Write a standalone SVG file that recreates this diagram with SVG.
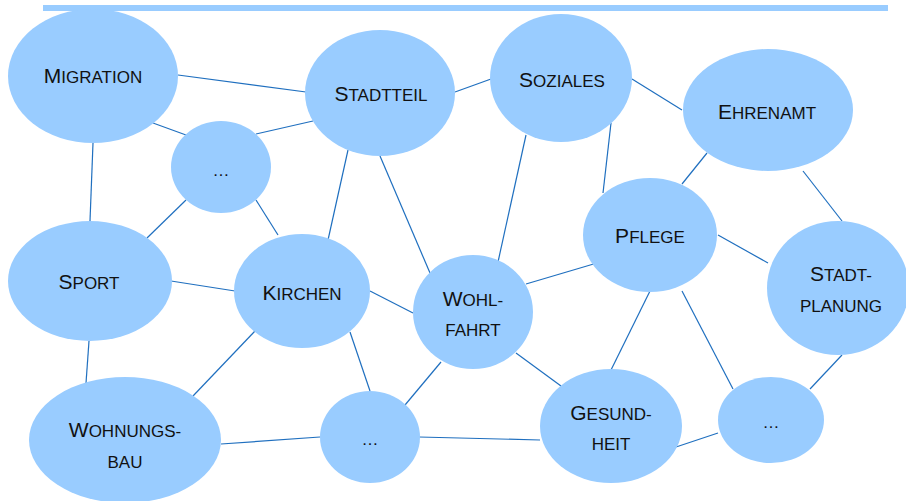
<svg xmlns="http://www.w3.org/2000/svg" width="906" height="501" viewBox="0 0 906 501">
<style>
.n{fill:#99ccff}
.c line{stroke:#1f6fbf;stroke-width:1.2}
text{font-family:"Liberation Sans",Arial,sans-serif;font-size:17px;fill:#111;text-anchor:middle}
.b{font-size:21px}
</style>
<rect x="43" y="5" width="845" height="6" fill="#99ccff"/>
<g class="c" id="connectors">
<line x1="178" y1="75" x2="306" y2="92"/>
<line x1="153" y1="123" x2="186" y2="135"/>
<line x1="256" y1="134" x2="313" y2="121"/>
<line x1="93" y1="143" x2="90" y2="221"/>
<line x1="455" y1="92" x2="491" y2="79"/>
<line x1="632" y1="79" x2="682" y2="110"/>
<line x1="348" y1="150" x2="328" y2="240"/>
<line x1="380" y1="156" x2="430" y2="273"/>
<line x1="186" y1="200" x2="147" y2="238"/>
<line x1="256" y1="200" x2="278" y2="235"/>
<line x1="526" y1="135" x2="498" y2="262"/>
<line x1="611" y1="123" x2="603" y2="193"/>
<line x1="707" y1="153" x2="682" y2="184"/>
<line x1="803" y1="171" x2="842" y2="221"/>
<line x1="171" y1="281" x2="235" y2="291"/>
<line x1="89" y1="341" x2="86" y2="383"/>
<line x1="370" y1="291" x2="413" y2="313"/>
<line x1="255" y1="331" x2="193" y2="396"/>
<line x1="350" y1="332" x2="370" y2="391"/>
<line x1="526" y1="284" x2="597" y2="263"/>
<line x1="441" y1="362" x2="405" y2="405"/>
<line x1="516" y1="353" x2="561" y2="386"/>
<line x1="718" y1="235" x2="768" y2="263"/>
<line x1="650" y1="291" x2="611" y2="370"/>
<line x1="682" y1="291" x2="733" y2="389"/>
<line x1="842" y1="355" x2="810" y2="389"/>
<line x1="221" y1="444" x2="320" y2="437"/>
<line x1="419" y1="437" x2="540" y2="440"/>
<line x1="676" y1="447" x2="718" y2="433"/>
</g>
<g id="migration"><ellipse class="n" cx="93" cy="76" rx="85" ry="67"/><text x="93" y="83"><tspan class="b">M</tspan>IGRATION</text></g>
<g id="stadtteil"><ellipse class="n" cx="380" cy="93" rx="75" ry="63"/><text x="381" y="101"><tspan class="b">S</tspan>TADTTEIL</text></g>
<g id="dots1"><ellipse class="n" cx="221" cy="167" rx="50" ry="46"/><text x="221" y="176">…</text></g>
<g id="soziales"><ellipse class="n" cx="561" cy="78" rx="71" ry="64"/><text x="562" y="87"><tspan class="b">S</tspan>OZIALES</text></g>
<g id="ehrenamt"><ellipse class="n" cx="768" cy="110" rx="85" ry="61"/><text x="767" y="119"><tspan class="b">E</tspan>HRENAMT</text></g>
<g id="sport"><ellipse class="n" cx="90" cy="281" rx="82" ry="60"/><text x="89" y="289"><tspan class="b">S</tspan>PORT</text></g>
<g id="kirchen"><ellipse class="n" cx="302" cy="291" rx="68" ry="57"/><text x="302" y="300"><tspan class="b">K</tspan>IRCHEN</text></g>
<g id="wohnungsbau"><ellipse class="n" cx="125" cy="440" rx="96" ry="63"/><text x="125" y="437"><tspan class="b">W</tspan>OHNUNGS-</text><text x="125" y="468">BAU</text></g>
<g id="dots2"><ellipse class="n" cx="370" cy="437" rx="50" ry="46"/><text x="370" y="445">…</text></g>
<g id="wohlfahrt"><ellipse class="n" cx="473" cy="312" rx="60" ry="57"/><text x="473" y="306"><tspan class="b">W</tspan>OHL-</text><text x="473" y="336">FAHRT</text></g>
<g id="pflege"><ellipse class="n" cx="650" cy="235" rx="67" ry="57"/><text x="650" y="243"><tspan class="b">P</tspan>FLEGE</text></g>
<g id="stadtplanung"><ellipse class="n" cx="838" cy="288" rx="71" ry="67"/><text x="841" y="281"><tspan class="b">S</tspan>TADT-</text><text x="841" y="312">PLANUNG</text></g>
<g id="gesundheit"><ellipse class="n" cx="611" cy="426" rx="71" ry="57"/><text x="611" y="420"><tspan class="b">G</tspan>ESUND-</text><text x="611" y="450">HEIT</text></g>
<g id="dots3"><ellipse class="n" cx="771" cy="420" rx="53" ry="43"/><text x="771" y="428">…</text></g>
</svg>
